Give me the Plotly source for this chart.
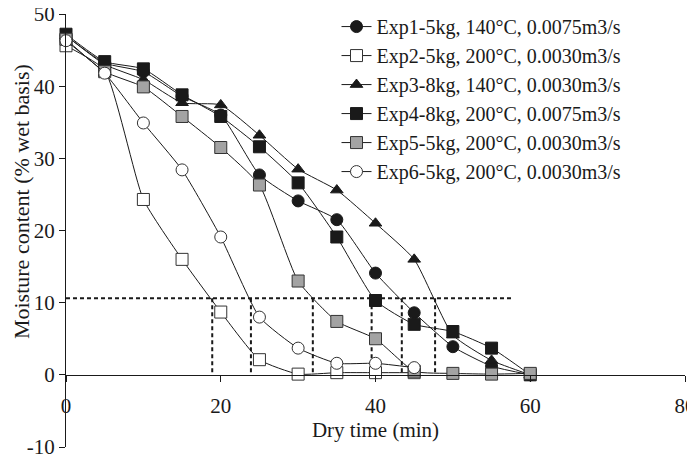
import plotly.graph_objects as go

time_min = [0, 5, 10, 15, 20, 25, 30, 35, 40, 45, 50, 55, 60]
time_exp2 = [0, 5, 10, 15, 20, 25, 30, 35, 40, 45]
time_exp6 = [0, 5, 10, 15, 20, 25, 30, 35, 40, 45]

exp1 = [47.0, 43.2, 42.0, 38.6, 36.0, 27.7, 24.1, 21.5, 14.1, 8.6, 3.9, 1.2, 0.0]
exp2 = [45.6, 42.2, 24.3, 16.0, 8.7, 2.1, 0.1, 0.3, 0.3, 0.3]
exp3 = [47.0, 43.0, 40.9, 37.7, 37.4, 33.2, 28.5, 25.6, 21.0, 16.0, 5.5, 2.0, 0.0]
exp4 = [47.2, 43.4, 42.4, 38.8, 35.8, 31.6, 26.6, 19.1, 10.3, 7.0, 6.0, 3.7, 0.0]
exp5 = [46.5, 42.0, 39.9, 35.8, 31.5, 26.3, 13.0, 7.4, 5.0, 0.5, 0.2, 0.1, 0.2]
exp6 = [46.3, 41.8, 34.9, 28.4, 19.1, 8.0, 3.7, 1.6, 1.6, 1.0]

names = [
    "Exp1-5kg, 140°C, 0.0075m3/s",
    "Exp2-5kg, 200°C, 0.0030m3/s",
    "Exp3-8kg, 140°C, 0.0030m3/s",
    "Exp4-8kg, 200°C, 0.0075m3/s",
    "Exp5-5kg, 200°C, 0.0030m3/s",
    "Exp6-5kg, 200°C, 0.0030m3/s",
]

threshold = 10.6
threshold_end = 57.6
cross_times = [18.9, 23.9, 31.9, 39.5, 43.4, 47.7]

x_ticks = [0, 20, 40, 60, 80]
y_ticks = [-10, 0, 10, 20, 30, 40, 50]
y_tick_labels = ["-10", "0", "10", "20", "30", "40", "50"]

FONT = "Liberation Serif, Times New Roman, serif"
INK = "#1a1a1a"

series = [
    (time_min, exp1, names[0], "circle", INK, INK),
    (time_exp2, exp2, names[1], "square", "white", "#333333"),
    (time_min, exp3, names[2], "triangle-up", INK, INK),
    (time_min, exp4, names[3], "square", INK, INK),
    (time_min, exp5, names[4], "square", "#a3a3a3", "#333333"),
    (time_exp6, exp6, names[5], "circle", "white", "#333333"),
]

fig = go.Figure()

# dotted reference lines
fig.add_trace(go.Scatter(
    x=[0, threshold_end], y=[threshold, threshold], mode="lines",
    line=dict(color=INK, width=2, dash="4px,3px"), showlegend=False, hoverinfo="skip"))
for t in cross_times:
    fig.add_trace(go.Scatter(
        x=[t, t], y=[threshold, 0], mode="lines",
        line=dict(color=INK, width=2, dash="4px,3px"), showlegend=False, hoverinfo="skip"))

for xs, ys, nm, sym, fill, edge in series:
    size = 12 if sym != "triangle-up" else 11
    fig.add_trace(go.Scatter(
        x=xs, y=ys, name=nm, mode="lines+markers",
        line=dict(color=INK, width=1, shape="spline", smoothing=0.5),
        marker=dict(symbol=sym, size=size, color=fill, line=dict(color=edge, width=1)),
        cliponaxis=False,
    ))

# page body adds an 8px offset, so the figure is sized 8px smaller
fig.update_layout(
    width=687, height=446,
    margin=dict(l=58, r=10, t=6, b=7, autoexpand=False),
    paper_bgcolor="white", plot_bgcolor="white",
    font=dict(family=FONT, size=21, color=INK),
    showlegend=True,
    legend=dict(x=0.437, y=1.016, xanchor="left", yanchor="top",
                bgcolor="rgba(0,0,0,0)", font=dict(family=FONT, size=20, color=INK),
                tracegroupgap=0, itemwidth=30),
    xaxis=dict(range=[0, 80], tickvals=x_ticks, ticks="outside", ticklen=6,
               tickcolor=INK, showline=True, linecolor=INK, linewidth=1,
               showgrid=False, zeroline=False, anchor="free", position=1/6,
               ticklabelstandoff=6, automargin=False, ticklabeloverflow="allow",
               title=dict(text="Dry time (min)", standoff=3,
                          font=dict(family=FONT, size=21, color=INK))),
    yaxis=dict(range=[-10, 50], tickvals=y_ticks, ticktext=y_tick_labels,
               ticks="outside", ticklen=6,
               tickcolor=INK, showline=True, linecolor=INK, linewidth=1,
               showgrid=False, zeroline=False, automargin=False,
               ticklabeloverflow="allow"),
    annotations=[dict(text="Moisture content (% wet basis)", xref="paper", yref="y",
                      x=-0.072, y=24.0, xanchor="center", textangle=-90, showarrow=False,
                      font=dict(family=FONT, size=22, color=INK))],
)

fig.write_html("out.html")
